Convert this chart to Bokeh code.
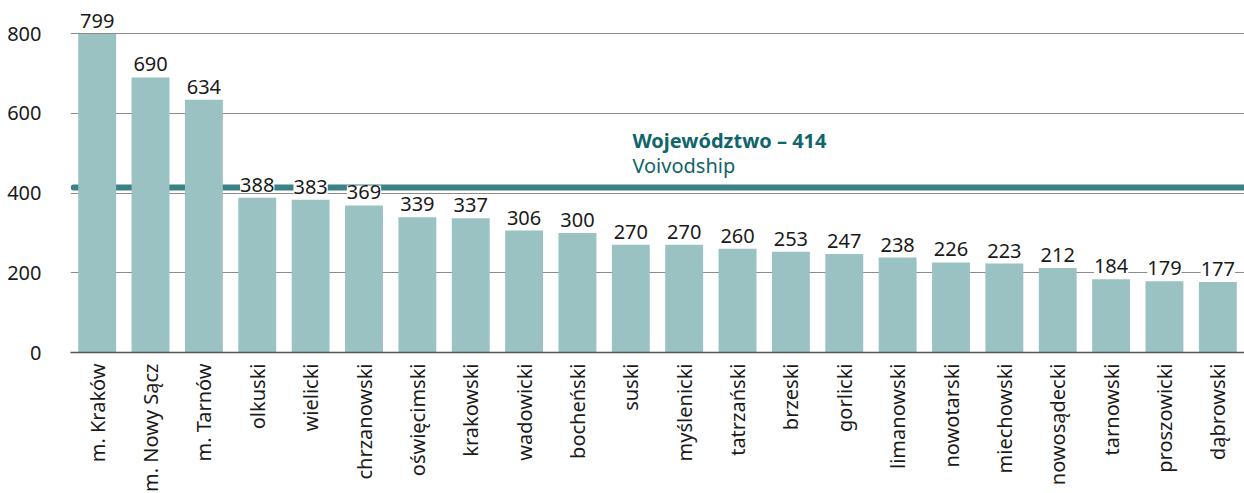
from bokeh.plotting import figure
from bokeh.models import ColumnDataSource, FactorRange, Range1d, LabelSet, Label, FixedTicker
from bokeh.core.properties import value
from bokeh.embed import file_html
from bokeh.resources import INLINE
import math

categories = ["m. Kraków", "m. Nowy Sącz", "m. Tarnów", "olkuski", "wielicki", "chrzanowski",
              "oświęcimski", "krakowski", "wadowicki", "bocheński", "suski", "myślenicki",
              "tatrzański", "brzeski", "gorlicki", "limanowski", "nowotarski", "miechowski",
              "nowosądecki", "tarnowski", "proszowicki", "dąbrowski"]
values = [799, 690, 634, 388, 383, 369, 339, 337, 306, 300, 270, 270, 260, 253, 247, 238,
          226, 223, 212, 184, 179, 177]
voivodship_value = 414
voivodship_label = "Województwo – 414"
voivodship_label_en = "Voivodship"
y_ticks = [0, 200, 400, 600, 800]

FONT = "Noto Sans"
BAR = "#9bc2c3"
TEAL_LINE = "#3a8286"
TEAL_TEXT = "#0f6569"

src = ColumnDataSource(dict(cat=categories, val=values, lab=[str(v) for v in values]))

p = figure(frame_width=1174, frame_height=352,
           x_range=FactorRange(*categories, range_padding=0),
           y_range=Range1d(0, 883), output_backend="svg", toolbar_location=None,
           min_border_left=70, min_border_right=0, min_border_top=0, min_border_bottom=0)
p.outline_line_color = None
p.background_fill_color = "white"
p.border_fill_color = "white"

p.xgrid.grid_line_color = None
p.ygrid.ticker = FixedTicker(ticks=[200, 400, 600, 800])
p.ygrid.grid_line_color = "#8c8c8c"
p.ygrid.grid_line_width = 1

p.yaxis.ticker = FixedTicker(ticks=y_ticks)
p.yaxis.axis_line_color = None
p.yaxis.major_tick_line_color = None
p.yaxis.minor_tick_line_color = None
p.yaxis.major_label_standoff = 23
p.yaxis.major_label_text_font = FONT
p.yaxis.major_label_text_font_size = "20px"
p.yaxis.major_label_text_color = "#1a1a1a"

p.xaxis.axis_line_color = "#555555"
p.xaxis.axis_line_width = 1.5
p.xaxis.major_tick_line_color = None
p.xaxis.minor_tick_line_color = None
p.xaxis.major_label_orientation = math.pi / 2
p.xaxis.major_label_standoff = 5
p.xaxis.major_label_text_font = FONT
p.xaxis.major_label_text_font_size = "20px"
p.xaxis.major_label_text_color = "#1a1a1a"

# voivodship average line (drawn beneath bars)
p.line(x=[0.06, len(categories)], y=[voivodship_value, voivodship_value],
       line_color=TEAL_LINE, line_width=6, line_cap="round")

p.vbar(x="cat", top="val", width=0.71, source=src, fill_color=BAR, line_color=None)

labels = LabelSet(x="cat", y="val", text="lab", source=src, text_align="center",
                  text_baseline="alphabetic", y_offset=6, text_font=value(FONT),
                  text_font_size=value("20px"), text_color="#1a1a1a",
                  background_fill_color="white")
p.add_layout(labels)

p.add_layout(Label(x=10.53, y=533, text=voivodship_label, text_font=FONT,
                   text_font_size="20px", text_font_style="bold", text_color=TEAL_TEXT,
                   text_baseline="alphabetic"))
p.add_layout(Label(x=10.53, y=469, text=voivodship_label_en, text_font=FONT,
                   text_font_size="20px", text_color=TEAL_TEXT,
                   text_baseline="alphabetic"))

open("out.html", "w").write(file_html(p, INLINE))
